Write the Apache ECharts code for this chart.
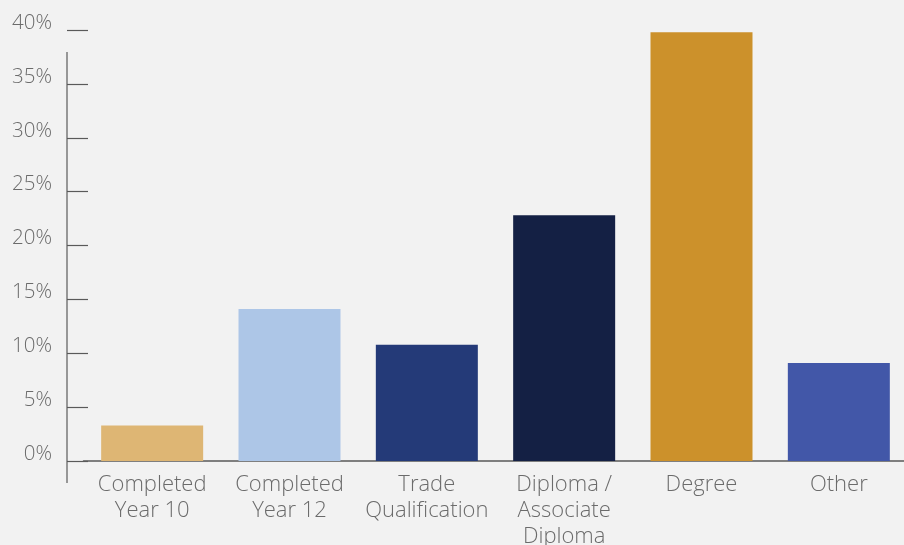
<!DOCTYPE html>
<html>
<head>
<meta charset="utf-8">
<script src="https://cdn.jsdelivr.net/npm/echarts@6/dist/echarts.min.js"></script>
<style>
  html, body { margin: 0; padding: 0; background: #f2f2f2; overflow: hidden; }
  #chart { width: 904px; height: 545px; }
</style>
</head>
<body>
<div id="chart"></div>
<script>
// Highest level of education (share of respondents, %)
const categories = ['Completed\nYear 10', 'Completed\nYear 12', 'Trade\nQualification', 'Diploma /\nAssociate\nDiploma', 'Degree', 'Other'];
const values = [3.3, 14.1, 10.8, 22.8, 39.8, 9.1];
const barColors = ['#deb674', '#adc6e7', '#243a78', '#142044', '#cc912b', '#4257a8'];
const yTicks = [0, 5, 10, 15, 20, 25, 30, 35, 40];

const textColor = '#6b6b6b';
const lineColor = '#5a5a5a';
const font = '"Open Sans", sans-serif';

const chart = echarts.init(document.getElementById('chart'));
chart.setOption({
  backgroundColor: '#f2f2f2',
  animation: false,
  grid: { left: 83.5, width: 824, top: 30, bottom: 84, containLabel: false, outerBoundsMode: 'none' },
  xAxis: {
    type: 'category',
    data: categories,
    axisLine: { show: true, lineStyle: { color: lineColor, width: 1.5 } },
    axisTick: { show: false },
    axisLabel: {
      color: textColor, fontFamily: font, fontWeight: 300, fontSize: 22,
      lineHeight: 26, margin: 11, interval: 0
    }
  },
  yAxis: {
    type: 'value',
    min: yTicks[0], max: yTicks[yTicks.length - 1], interval: 5,
    offset: 16.5,
    splitLine: { show: false },
    axisLine: { show: false },
    axisTick: { show: true, inside: true, length: 21, lineStyle: { color: lineColor, width: 1.2 } },
    axisLabel: {
      color: textColor, fontFamily: font, fontWeight: 300, fontSize: 20.5,
      margin: 15, verticalAlign: 'bottom', lineHeight: 14,
      formatter: v => v + '%'
    }
  },
  graphic: [{
    type: 'line',
    shape: { x1: 67, y1: 52, x2: 67, y2: 483 },
    style: { stroke: lineColor, lineWidth: 1.2 },
    z: 10
  }],
  series: [{
    type: 'bar',
    barWidth: 102,
    data: values.map((v, i) => ({ value: v, itemStyle: { color: barColors[i] } }))
  }]
});
</script>
</body>
</html>
